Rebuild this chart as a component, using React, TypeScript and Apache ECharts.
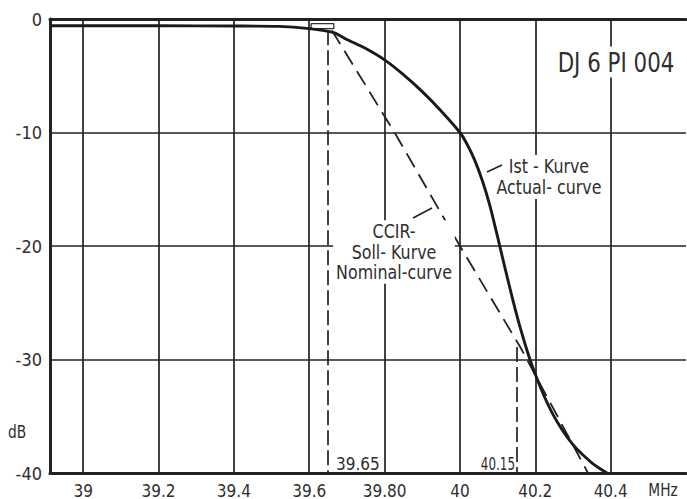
import React, { useEffect, useRef } from "react";
import * as echarts from "echarts";

// Frequency axis (MHz)
const X_MIN = 38.912;
const X_MAX = 40.6;
const xTickValues = [39, 39.2, 39.4, 39.6, 39.8, 40, 40.2, 40.4];
const xTickLabels = ["39", "39.2", "39.4", "39.6", "39.80", "40", "40.2", "40.4"];
const verticalGrid = [39, 39.2, 39.4, 39.6, 39.8, 40, 40.2, 40.4];

// Attenuation axis (dB)
const Y_MIN = -40;
const Y_MAX = 0;
const Y_STEP = 10;

// Ist-Kurve / Actual-curve
const actualFreq = [38.912, 39.2, 39.4, 39.52, 39.6, 39.665, 39.7, 39.75, 39.8, 39.85, 39.9, 39.95, 40.0, 40.02, 40.04, 40.06, 40.08, 40.1, 40.12, 40.14, 40.16, 40.18, 40.2, 40.23, 40.26, 40.3, 40.35, 40.39];
const actualDb = [-0.6, -0.6, -0.62, -0.65, -0.85, -1.2, -1.8, -2.6, -3.6, -4.9, -6.4, -8.1, -10, -11.1, -12.5, -14.3, -16.5, -19.2, -22.0, -24.7, -27.2, -29.4, -31.3, -33.7, -35.6, -37.5, -39.1, -40];

// CCIR Soll-Kurve / Nominal-curve
const nominalFreq = [39.66, 39.83, 40.0, 40.16, 40.34];
const nominalDb = [-1.0, -10.2, -20, -28.9, -40];

// small tolerance box at the knee
const boxFreq = [39.605, 39.665, 39.665, 39.605, 39.605];
const boxDb = [-0.4, -0.4, -0.85, -0.85, -0.4];

// marked frequencies
const markFreqs = [39.65, 40.15];
const markTopDb = [-1.0, -28.9];
const markLabels = ["39.65", "40.15"];

const FONT = "'DejaVu Sans Condensed', 'Liberation Sans Narrow', 'DejaVu Sans', sans-serif";
const INK = "#222";
const TXT = "#2e2e2e";

export default function App() {
  const ref = useRef<HTMLDivElement>(null);

  useEffect(() => {
    if (!ref.current) return;
    const chart = echarts.init(ref.current, null, { renderer: "svg" });

    const pairs = (xs: number[], ys: number[]) => xs.map((x, i) => [x, ys[i]]);

    chart.setOption({
      animation: false,
      backgroundColor: "#ffffff",
      grid: { left: 50, right: 1, top: 19, bottom: 26, containLabel: false },
      xAxis: [
        {
          type: "value",
          min: X_MIN,
          max: X_MAX,
          axisLine: { show: true, onZero: false, lineStyle: { color: INK, width: 3 } },
          axisTick: { show: false },
          splitLine: { show: false },
          axisLabel: {
            customValues: xTickValues,
            formatter: (v: number) => {
              const i = xTickValues.findIndex((t) => Math.abs(t - v) < 1e-6);
              return i >= 0 ? xTickLabels[i] : "";
            },
            color: TXT,
            fontFamily: FONT,
            fontSize: 17,
            margin: 9,
          },
        },
        {
          type: "value",
          position: "top",
          min: X_MIN,
          max: X_MAX,
          axisLine: { show: true, onZero: false, lineStyle: { color: INK, width: 3 } },
          axisTick: { show: false },
          axisLabel: { show: false },
          splitLine: { show: false },
        },
      ],
      yAxis: {
        type: "value",
        min: Y_MIN,
        max: Y_MAX,
        interval: Y_STEP,
        axisLine: { show: true, onZero: false, lineStyle: { color: INK, width: 3 } },
        axisTick: { show: false },
        splitLine: { show: true, lineStyle: { color: INK, width: 1.7 } },
        axisLabel: {
          color: TXT,
          fontFamily: FONT,
          fontSize: 18,
          margin: 8,
          formatter: (v: number) => (v === 0 ? "0" : "-" + Math.abs(v)),
        },
      },
      series: [
        {
          type: "line",
          data: [],
          silent: true,
          markLine: {
            silent: true,
            symbol: "none",
            label: { show: false },
            lineStyle: { color: INK, width: 1.7, type: "solid" },
            data: verticalGrid.map((v) => ({ xAxis: v })),
          },
        },
        {
          type: "line",
          data: [],
          silent: true,
          markLine: {
            silent: true,
            symbol: "none",
            label: { show: false },
            lineStyle: { color: INK, width: 1.7, type: [15, 5] },
            data: markFreqs.map((f, i) => [
              { coord: [f, markTopDb[i]] },
              { coord: [f, Y_MIN] },
            ]),
          },
        },
        {
          name: "box",
          type: "line",
          data: pairs(boxFreq, boxDb),
          showSymbol: false,
          lineStyle: { color: "#333", width: 1.3 },
          z: 3,
        },
        {
          name: "Nominal-curve",
          type: "line",
          data: pairs(nominalFreq, nominalDb),
          showSymbol: false,
          lineStyle: { color: INK, width: 1.8, type: [16, 8] },
          z: 4,
        },
        {
          name: "Actual-curve",
          type: "line",
          data: pairs(actualFreq, actualDb),
          showSymbol: false,
          smooth: 0.25,
          lineStyle: { color: "#1a1a1a", width: 2.9 },
          z: 5,
        },
      ],
      graphic: [
        {
          type: "text",
          x: 616,
          y: 62,
          scaleX: 0.88,
          z: 10,
          style: {
            text: "DJ 6 PI 004",
            fill: TXT,
            font: `27px ${FONT}`,
            align: "center",
            verticalAlign: "middle",
            backgroundColor: "#fff",
            padding: [2, 4],
          },
        },
        {
          type: "text",
          x: 549,
          y: 177,
          scaleX: 0.93,
          z: 10,
          style: {
            text: "Ist - Kurve\nActual- curve",
            fill: TXT,
            font: `19px ${FONT}`,
            lineHeight: 21,
            align: "center",
            verticalAlign: "middle",
            backgroundColor: "#fff",
            padding: [1, 3],
          },
        },
        {
          type: "text",
          x: 394,
          y: 252,
          scaleX: 0.93,
          z: 10,
          style: {
            text: "CCIR-\nSoll- Kurve\nNominal-curve",
            fill: TXT,
            font: `19px ${FONT}`,
            lineHeight: 20.5,
            align: "center",
            verticalAlign: "middle",
            backgroundColor: "#fff",
            padding: [1, 3],
          },
        },
        {
          type: "line",
          z: 10,
          shape: { x1: 487, y1: 172, x2: 502, y2: 165 },
          style: { stroke: INK, lineWidth: 1.6 },
        },
        {
          type: "line",
          z: 10,
          shape: { x1: 413, y1: 218, x2: 432, y2: 208 },
          style: { stroke: INK, lineWidth: 1.6 },
        },
        {
          type: "text",
          x: 336,
          y: 464,
          scaleX: 1,
          z: 10,
          style: { text: markLabels[0], fill: TXT, font: `17px ${FONT}`, align: "left", verticalAlign: "middle" },
        },
        {
          type: "text",
          x: 515,
          y: 464,
          scaleX: 0.78,
          z: 10,
          style: { text: markLabels[1], fill: TXT, font: `17px ${FONT}`, align: "right", verticalAlign: "middle" },
        },
        {
          type: "text",
          x: 663,
          y: 490,
          scaleX: 0.9,
          z: 10,
          style: { text: "MHz", fill: TXT, font: `17px ${FONT}`, align: "center", verticalAlign: "middle" },
        },
        {
          type: "text",
          x: 17,
          y: 432,
          scaleX: 0.9,
          z: 10,
          style: { text: "dB", fill: TXT, font: `17px ${FONT}`, align: "center", verticalAlign: "middle" },
        },
      ],
    });

    return () => chart.dispose();
  }, []);

  return (
    <div
      ref={ref}
      style={{ position: "absolute", left: 0, top: 0, width: 687, height: 499, background: "#fff" }}
    />
  );
}
